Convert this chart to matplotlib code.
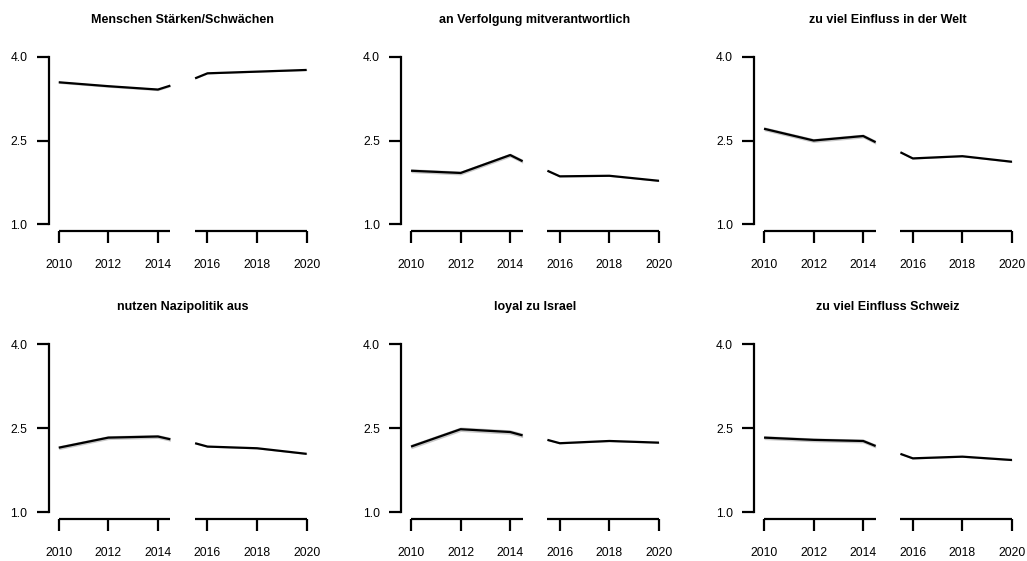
import matplotlib
matplotlib.use("Agg")
import matplotlib.pyplot as plt
import numpy as np

plt.rcParams['font.family'] = ['Liberation Sans', 'DejaVu Sans']

# time points (two segments, interrupted series)
years_a = [2010, 2012, 2014, 2014.5]
years_b = [2015.5, 2016, 2018, 2020]

titles = [
    "Menschen Stärken/Schwächen",
    "an Verfolgung mitverantwortlich",
    "zu viel Einfluss in der Welt",
    "nutzen Nazipolitik aus",
    "loyal zu Israel",
    "zu viel Einfluss Schweiz",
]

# estimated means, segment A (2010-2014.5)
mean_a = [
    [3.54, 3.47, 3.41, 3.48],
    [1.96, 1.92, 2.24, 2.13],
    [2.71, 2.50, 2.58, 2.47],
    [2.15, 2.33, 2.35, 2.30],
    [2.17, 2.48, 2.43, 2.37],
    [2.33, 2.29, 2.27, 2.18],
]
# estimated means, segment B (2015.5-2020)
mean_b = [
    [3.61, 3.70, 3.73, 3.76],
    [1.96, 1.86, 1.87, 1.78],
    [2.29, 2.18, 2.22, 2.12],
    [2.23, 2.17, 2.14, 2.04],
    [2.29, 2.23, 2.27, 2.24],
    [2.04, 1.96, 1.99, 1.93],
]
# half-widths of the confidence bands
ci_a = [0.02, 0.035, 0.035, 0.035, 0.04, 0.035]
ci_b = [0.01, 0.012, 0.012, 0.012, 0.012, 0.012]

xticks = [2010, 2012, 2014, 2016, 2018, 2020]
yticks = [1.0, 2.5, 4.0]
ytick_labels = ["1.0", "2.5", "4.0"]

W, H = 1027, 561
fig = plt.figure(figsize=(W / 100, H / 100), dpi=100)

lefts = [48.8, 401.1, 754.1]
bottoms = [231.2, 518.8]
pw, ph = 267.8, 181.4

lw = 1.6
for i, title in enumerate(titles):
    r, c = divmod(i, 3)
    ax = fig.add_axes([lefts[c] / W, 1 - bottoms[r] / H, pw / W, ph / H])
    for yrs, m, ci in ((years_a, mean_a[i], ci_a[i]), (years_b, mean_b[i], ci_b[i])):
        m = np.array(m)
        ax.fill_between(yrs, m - ci, m + ci, color="#c8c8c8", lw=0, zorder=1)
        ax.plot(yrs, m, color="black", lw=lw, solid_capstyle="butt", zorder=2)
    ax.set_xlim(2009.6, 2020.4)
    ax.set_ylim(0.88, 4.12)
    for s in ("top", "right", "bottom"):
        ax.spines[s].set_visible(False)
    ax.spines["left"].set_bounds(1.0, 4.0)
    ax.spines["left"].set_linewidth(lw)
    # broken x axis
    tr = ax.get_xaxis_transform()
    for seg in ((years_a[0], years_a[-1]), (years_b[0], years_b[-1])):
        ax.plot(seg, [0, 0], color="black", lw=lw, transform=tr, clip_on=False,
                solid_capstyle="butt", zorder=3)
    ax.set_xticks(xticks)
    ax.set_xticklabels([str(x) for x in xticks])
    ax.set_yticks(yticks)
    ax.set_yticklabels(ytick_labels)
    ax.tick_params(axis="both", length=8.3, width=lw, labelsize=8.7, color="black")
    ax.tick_params(axis="x", pad=12)
    ax.tick_params(axis="y", pad=7)
    ax.set_title(title, fontsize=9, fontweight="bold", pad=19.5)
    ax.patch.set_visible(False)

fig.savefig("out.png", dpi=100)
